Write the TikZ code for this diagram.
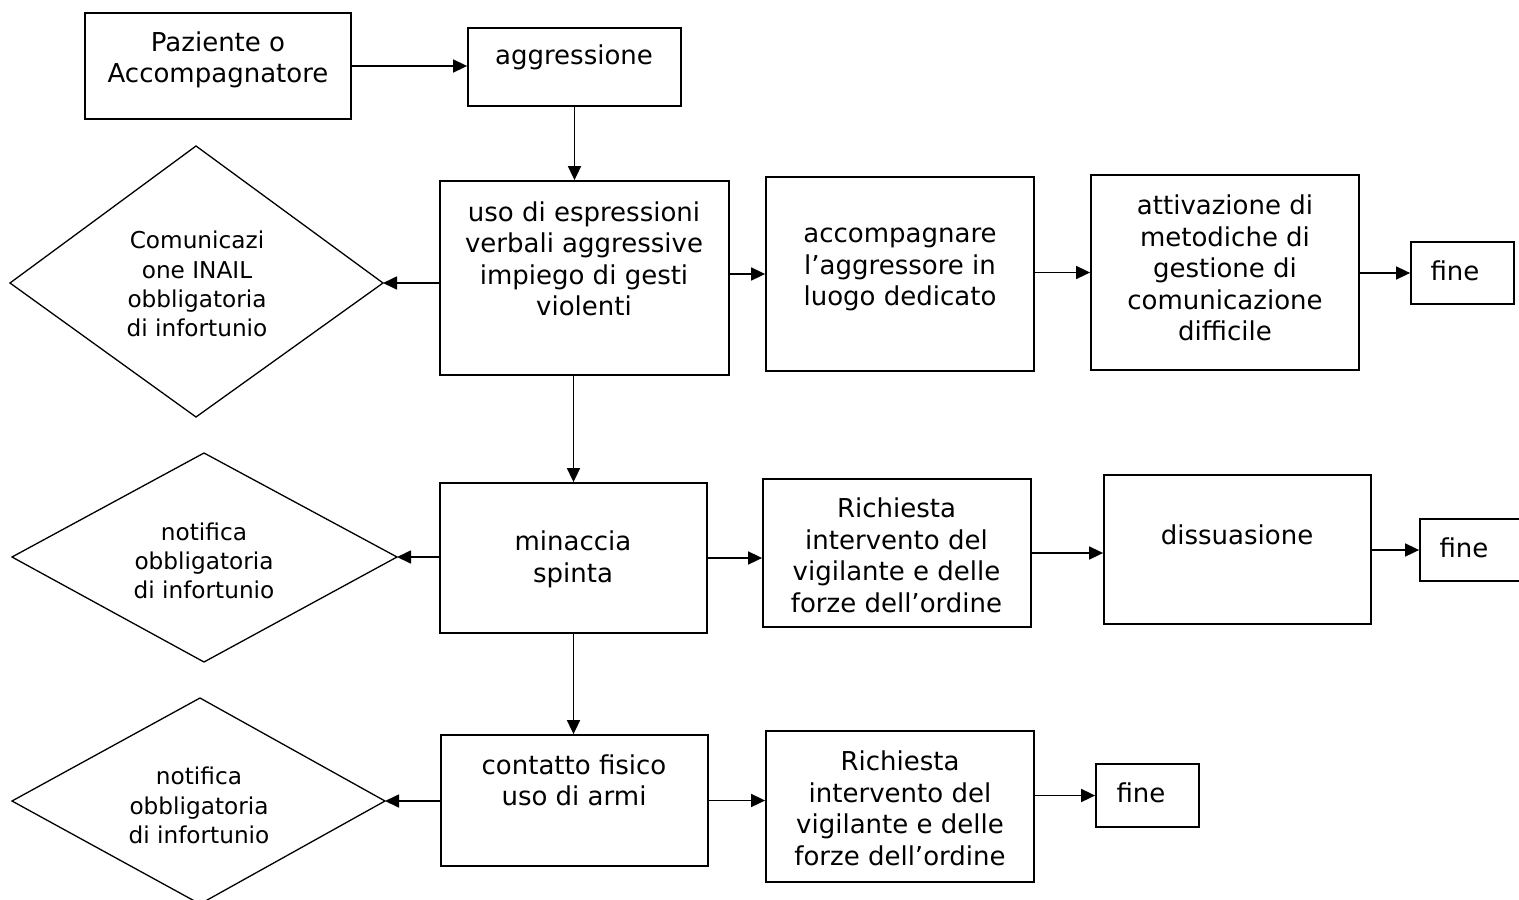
\documentclass[tikz,border=0pt]{standalone}
\usepackage{fontspec}
\setmainfont{DejaVu Sans}
\usetikzlibrary{arrows.meta,fit}
\tikzset{
  x=0.5pt, y=-0.5pt,
  box/.style={draw, line width=0.9pt, inner sep=0pt, fit={#1}},
  txt/.style={align=center, inner sep=0pt, font=\fontsize{13}{15.75}\selectfont},
  dtxt/.style={align=center, inner sep=0pt, font=\fontsize{11.6}{14.6}\selectfont},
  dia/.style={draw, line width=0.65pt},
  arr/.style={line width=0.85pt, -{Triangle[length=7pt,width=6.5pt]}}
}
\begin{document}
\begin{tikzpicture}
\useasboundingbox (0,0) rectangle (1519,899);
\clip (0,0) rectangle (1519,899);
% boxes
\node[box={(85,13) (351,119)}] (a) {};
\node[txt] (ta) at (218,60) {Paziente o\\Accompagnatore};
\node[box={(468,28) (681,106)}] (b) {};
\node[txt] (tb) at (574,57) {aggressione};
\node[box={(440,181) (729,375)}] (c) {};
\node[txt] (tc) at (584,259) {uso di espressioni\\verbali aggressive\\impiego di gesti\\violenti};
\node[box={(766,177) (1034,371)}] (e) {};
\node[txt] (te) at (900,269.5) {accompagnare\\l’aggressore in\\luogo dedicato};
\node[box={(1091,175) (1359,370)}] (f) {};
\node[txt] (tf) at (1225,268) {attivazione di\\metodiche di\\gestione di\\comunicazione\\difficile};
\node[box={(1411,242) (1514,304)}] (fin1) {};
\node[txt] (tfin1) at (1455,271) {fine};
\node[box={(440,483) (707,633)}] (g) {};
\node[txt] (tg) at (573,559.5) {minaccia\\spinta};
\node[box={(763,479) (1031,627)}] (h) {};
\node[txt] (th) at (896.5,555.5) {Richiesta\\intervento del\\vigilante e delle\\forze dell’ordine};
\node[box={(1104,475) (1371,624)}] (i) {};
\node[txt] (ti) at (1237,535) {dissuasione};
\node[box={(1420,519) (1530,581)}] (fin2) {};
\node[txt] (tfin2) at (1464,548) {fine};
\node[box={(441,735) (708,866)}] (j) {};
\node[txt] (tj) at (574,780.5) {contatto fisico\\uso di armi};
\node[box={(766,731) (1034,882)}] (k) {};
\node[txt] (tk) at (900,808.5) {Richiesta\\intervento del\\vigilante e delle\\forze dell’ordine};
\node[box={(1096,764) (1199,827)}] (fin3) {};
\node[txt] (tfin3) at (1141,793) {fine};
% diamonds
\coordinate (d1n) at (196,146); \coordinate (d1e) at (383,283);
\coordinate (d1s) at (196,417); \coordinate (d1w) at (10,283);
\draw[dia] (d1n) -- (d1e) -- (d1s) -- (d1w) -- cycle;
\node[dtxt] (td1) at (197,284) {Comunicazi\\one INAIL\\obbligatoria\\di infortunio};
\coordinate (d2n) at (204,453); \coordinate (d2e) at (397,557);
\coordinate (d2s) at (204,662); \coordinate (d2w) at (12,557);
\draw[dia] (d2n) -- (d2e) -- (d2s) -- (d2w) -- cycle;
\node[dtxt] (td2) at (204,561) {notifica\\obbligatoria\\di infortunio};
\coordinate (d3n) at (200,698); \coordinate (d3e) at (385,801);
\coordinate (d3s) at (200,904); \coordinate (d3w) at (12,801);
\draw[dia] (d3n) -- (d3e) -- (d3s) -- (d3w) -- cycle;
\node[dtxt] (td3) at (199,805.5) {notifica\\obbligatoria\\di infortunio};
% connectors
\draw[arr] (a.east) -- (a.east -| b.west);
\draw[arr] (b.south) -- (b.south |- c.north);
\draw[arr] (c.west |- d1e) -- (d1e);
\draw[arr] (c.east |- e.west) -- (e.west);
\draw[arr] (e.east |- f.west) -- (f.west);
\draw[arr] (f.east |- fin1.west) -- (fin1.west);
\draw[arr] (c.south -| g.north) -- (g.north);
\draw[arr] (g.west |- d2e) -- (d2e);
\draw[arr] (g.east) -- (g.east -| h.west);
\draw[arr] (h.east) -- (h.east -| i.west);
\draw[arr] (i.east |- fin2.west) -- (fin2.west);
\draw[arr] (g.south) -- (g.south |- j.north);
\draw[arr] (j.west |- d3e) -- (d3e);
\draw[arr] (j.east) -- (j.east -| k.west);
\draw[arr] (k.east |- fin3.west) -- (fin3.west);
\end{tikzpicture}
\end{document}
